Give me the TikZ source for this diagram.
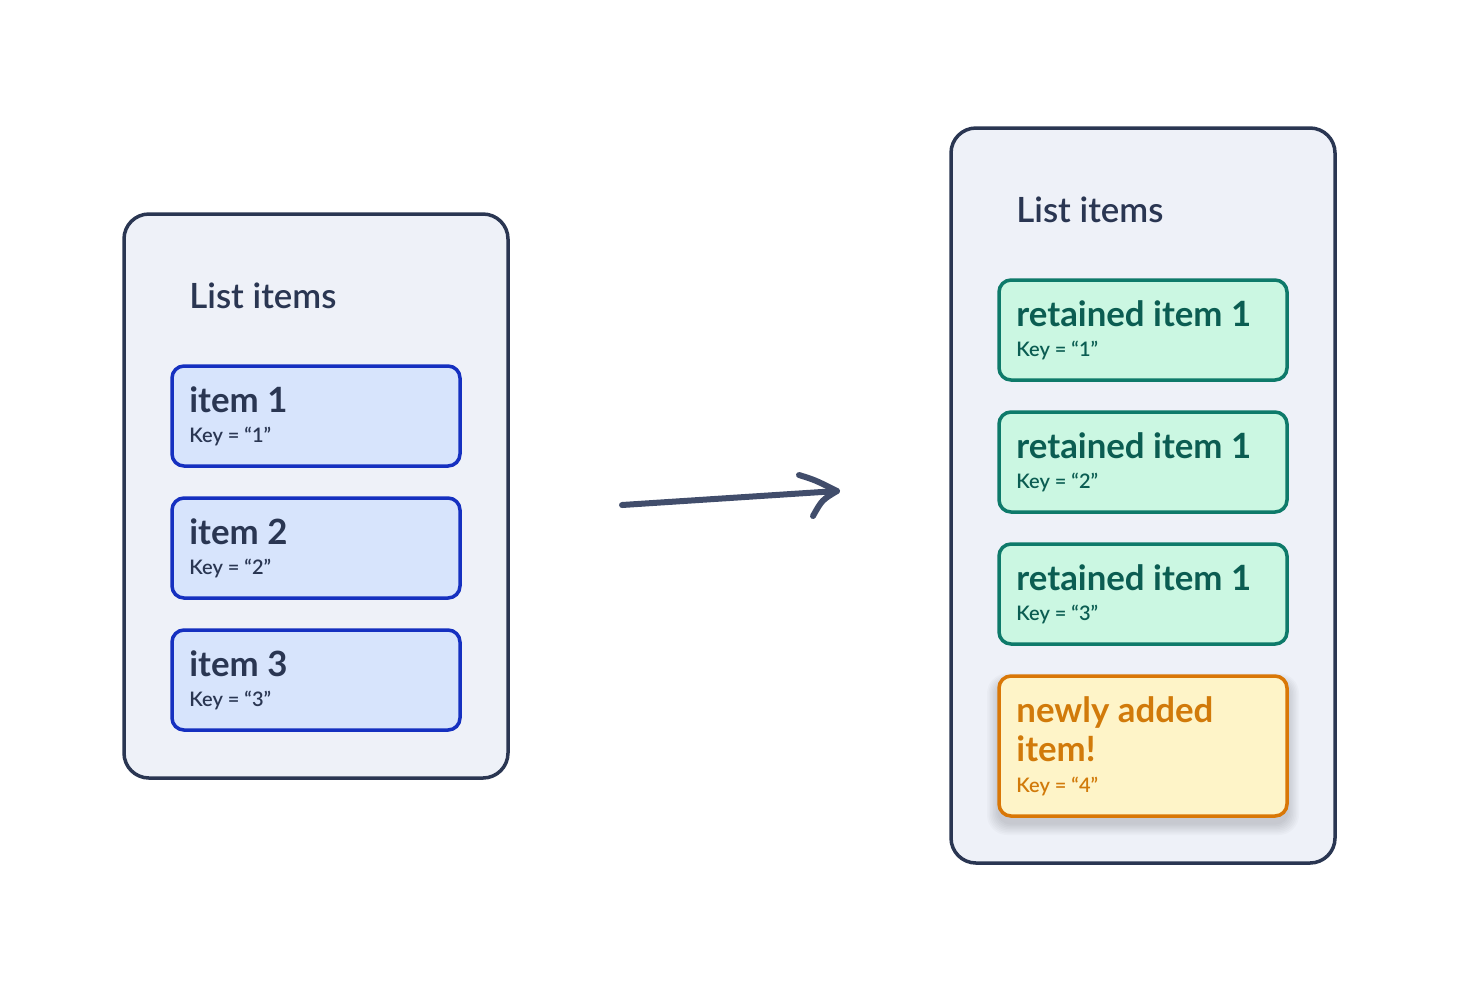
\documentclass[tikz,border=0pt]{standalone}
\usepackage{fontspec}
\setmainfont{Lato}
\newfontfamily\headface{Lato Semibold}
\newfontfamily\keyface{Lato Semibold}

\definecolor{ink}{HTML}{2A3652}
\definecolor{panelfill}{HTML}{EEF1F8}
\definecolor{blueline}{HTML}{1530C0}
\definecolor{bluefill}{HTML}{D7E4FC}
\definecolor{tealline}{HTML}{0E7A6A}
\definecolor{tealfill}{HTML}{CBF7E2}
\definecolor{tealink}{HTML}{0B5D52}
\definecolor{orangeline}{HTML}{D97706}
\definecolor{orangefill}{HTML}{FEF4C8}
\definecolor{orangeink}{HTML}{D17A0A}
\definecolor{arrowink}{HTML}{414D6B}

\tikzset{
  panel/.style={draw=ink, fill=panelfill, line width=1.75pt, rounded corners=12.5pt},
  oldbox/.style={draw=blueline, fill=bluefill, line width=1.75pt, rounded corners=6pt},
  keptbox/.style={draw=tealline, fill=tealfill, line width=1.75pt, rounded corners=6pt},
  newbox/.style={draw=orangeline, fill=orangefill, line width=1.75pt, rounded corners=6pt},
  heading/.style={anchor=base west, inner sep=0pt, text=ink, font=\headface\fontsize{17.4}{20}\selectfont},
  title/.style={anchor=base west, inner sep=0pt, font=\fontsize{17.4}{20}\selectfont\bfseries},
  keytext/.style={anchor=base west, inner sep=0pt, font=\keyface\fontsize{10}{12}\selectfont},
  flow/.style={draw=arrowink, line width=3pt, line cap=round, line join=round},
}

\begin{document}
\begin{tikzpicture}[x=0.5pt, y=-0.5pt]
  \useasboundingbox (0,0) rectangle (1459,992);

  % ---- before: original list ----
  \path[panel] (124,214) rectangle (508,778);
  \node[heading] (lhead) at (189,308) {List items};

  \path[oldbox] (172,366) rectangle (460,466);
  \node[title, text=ink] (i1) at (189,412) {item 1};
  \node[keytext, text=ink] (k1) at (189,442) {Key = “1”};

  \path[oldbox] (172,498) rectangle (460,598);
  \node[title, text=ink] (i2) at (189,544) {item 2};
  \node[keytext, text=ink] (k2) at (189,574) {Key = “2”};

  \path[oldbox] (172,630) rectangle (460,730);
  \node[title, text=ink] (i3) at (189,676) {item 3};
  \node[keytext, text=ink] (k3) at (189,706) {Key = “3”};

  % ---- transition arrow ----
  \coordinate (from) at (622,505);
  \coordinate (to) at (837,491);
  \coordinate (barbA) at (799,475);
  \coordinate (barbB) at (813,516);
  \draw[flow] (from) -- (to);
  \draw[flow] (barbA) .. controls (815,480) .. (to) .. controls (822,500) .. (barbB);

  % ---- after: updated list ----
  \path[panel] (951,128) rectangle (1335,863);
  \node[heading] (rhead) at (1016,222) {List items};

  \path[keptbox] (999,280) rectangle (1287,380);
  \node[title, text=tealink] (r1) at (1016,326) {retained item 1};
  \node[keytext, text=tealink] (rk1) at (1016,356) {Key = “1”};

  \path[keptbox] (999,412) rectangle (1287,512);
  \node[title, text=tealink] (r2) at (1016,458) {retained item 1};
  \node[keytext, text=tealink] (rk2) at (1016,488) {Key = “2”};

  \path[keptbox] (999,544) rectangle (1287,644);
  \node[title, text=tealink] (r3) at (1016,590) {retained item 1};
  \node[keytext, text=tealink] (rk3) at (1016,620) {Key = “3”};

  % soft drop shadow under the new item
  \foreach \g in {1,...,8}{
    \fill[black, opacity=0.02, rounded corners=6pt+0.5pt*\g]
      (999-\g*1.5,676+7-\g*1.2) rectangle (1287+\g*1.5,816+7+\g*1.5);
  }
  \path[newbox] (999,676) rectangle (1287,816);
  \node[title, text=orangeink] (n1) at (1016,722) {newly added};
  \node[title, text=orangeink] (n2) at (1016,761) {item!};
  \node[keytext, text=orangeink] (nk) at (1016,792) {Key = “4”};
\end{tikzpicture}
\end{document}
